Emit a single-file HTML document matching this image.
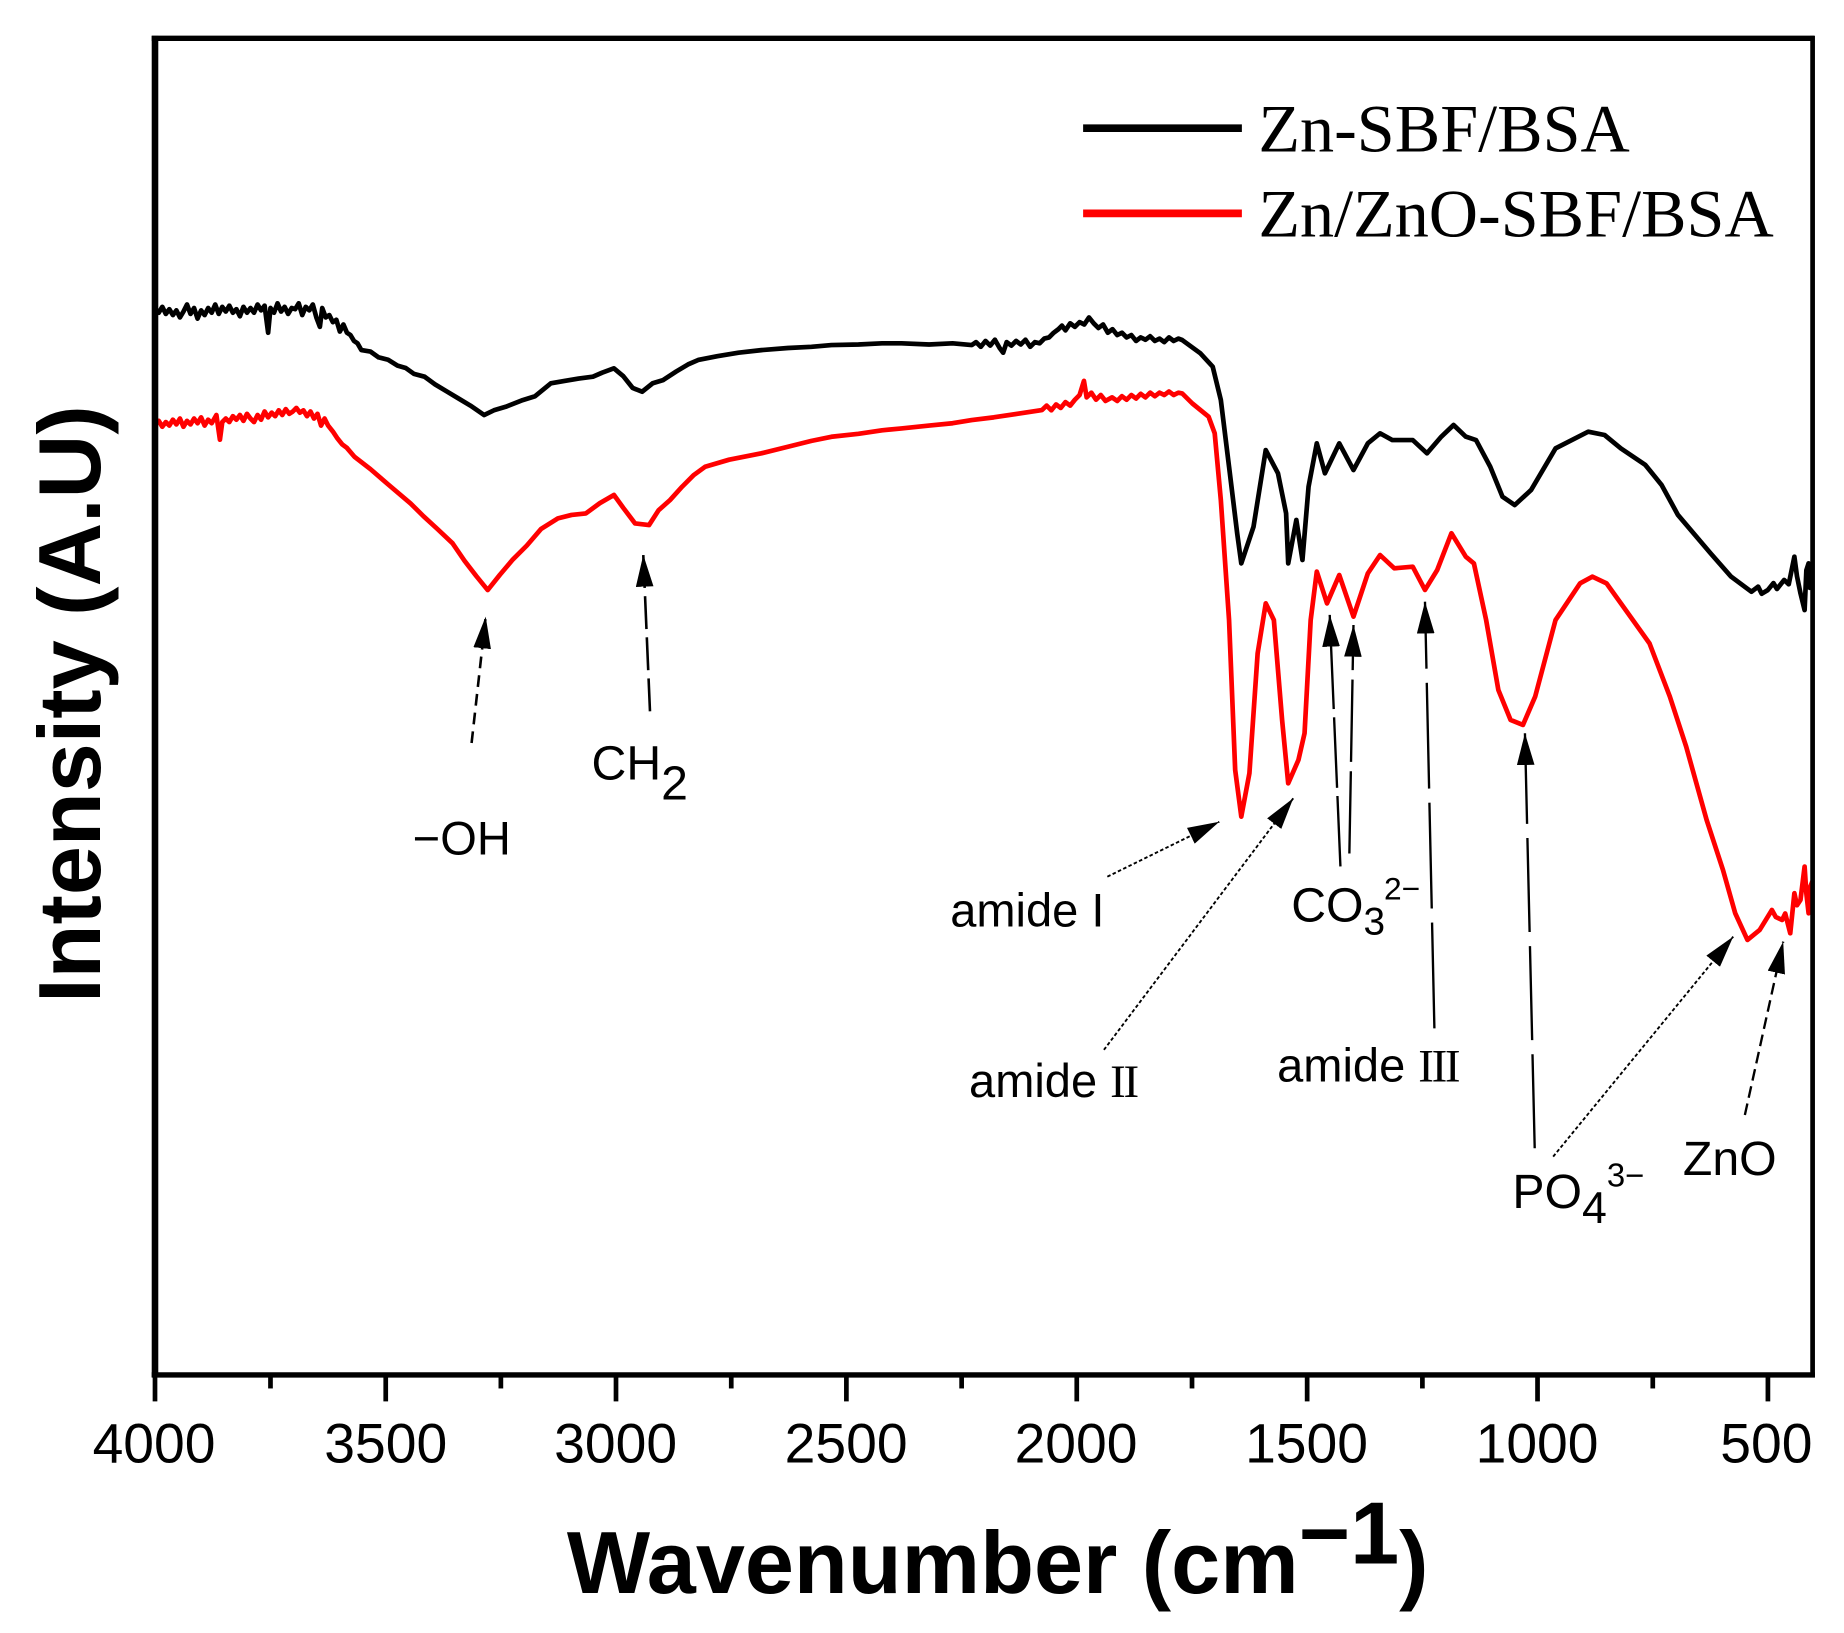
<!DOCTYPE html>
<html>
<head>
<meta charset="utf-8">
<style>
  html,body{margin:0;padding:0;background:#fff;}
  svg{display:block;}
  .t{font-family:"Liberation Sans",Arial,sans-serif;fill:#000;}
  .s{font-family:"Liberation Serif","Times New Roman",serif;fill:#000;}
</style>
</head>
<body>
<svg id="chart" width="1844" height="1633" viewBox="0 0 1568 1389" preserveAspectRatio="none" xmlns="http://www.w3.org/2000/svg">
  <defs>
    <marker id="ah" viewBox="0 0 27 15" refX="27" refY="7.5" markerWidth="27" markerHeight="15" markerUnits="userSpaceOnUse" orient="auto">
      <path d="M0,0 L27,7.5 L0,15 z" fill="#000" stroke="none"/>
    </marker>
  </defs>
  <rect x="0" y="0" width="1568" height="1389" fill="#fff"/>

  <!-- black curve -->
  <path fill="none" stroke="#000" stroke-width="4" stroke-linejoin="round" stroke-linecap="round"
    d="M131.4,262 L135,266 L138,261 L141,267 L144,263 L147,268 L150,264 L153,270 L156,265 L159,259 L162,267 L165,262 L168,271 L171,264 L174,268 L177,262 L180,266 L183,259 L186,267 L189,261 L192,265 L195,260 L198,266 L201,263 L204,269 L207,261 L210,266 L213,262 L216,266 L219,259 L222,264 L225,260 L228,283 L230,262 L233,266 L236,258 L239,265 L242,261 L245,267 L248,262 L251,263 L254,258 L257,268 L260,261 L263,264 L266,259 L269,270 L272,278 L274,262 L277,270 L280,268 L283,274 L286,272 L289,282 L292,276 L295,283 L298,285 L301,290 L304,292 L307.3,297.8 L315,299 L322,304 L330,306 L338,311 L345,313 L352,318 L361,320.4 L370,327 L380,333 L390,339 L400,345 L411.7,353 L420,349 L430,346 L444.5,340.3 L455,337 L468.4,326 L480,324 L492,322 L504.2,320.4 L512,317 L522,313.3 L530,320 L538,330 L546,333.2 L555,326 L563.8,323.3 L575,316 L585,310 L593.7,306.2 L610,303 L628,300 L647.4,297.8 L670,296 L690,295 L707,293.5 L730,293 L750,292 L766.6,292 L790,293 L810,292 L826.3,293.5 L830,291 L834,295 L838,290 L842,294 L846,289 L850,296 L853,300 L856,291 L860,294 L864,290 L868,293 L872,289 L876,295 L880,291 L884,292 L888,288 L892,287 L896,283 L900,280 L903,277 L906,281 L910,275 L914,278 L918,274 L922,276 L926,270 L930,275 L934,279 L938,276 L942,283 L946,280 L950,285 L954,283 L958,287 L962,285 L966,290 L970,287 L974,289 L978,286 L982,290 L986,288 L990,291 L994,287 L998,290 L1002,288 L1005.2,289.2 L1020.8,300.6 L1031.2,311.9 L1038.1,340.2 L1045.1,397 L1052,453.6 L1055.5,479.2 L1065.9,448 L1076.3,382.8 L1086.7,402.6 L1093.6,436.6 L1095.4,479.2 L1102.3,442.3 L1107.5,476.3 L1112.7,414 L1119.7,377.1 L1126.6,402.6 L1138.8,377.1 L1150.9,399.8 L1163.1,377.1 L1173.5,368.6 L1183.9,374.3 L1201.3,374.3 L1213.4,385.6 L1225.6,371.4 L1236,361.5 L1246.4,371.4 L1255.1,374.3 L1267.2,397 L1277.6,422.5 L1288,429.6 L1301.9,416.8 L1322.7,381.4 L1350.5,367.2 L1364.4,370 L1378.3,381.4 L1399.1,395.5 L1412.9,412.5 L1426.8,438 L1454.6,470.7 L1472,490.5 L1489.3,503.3 L1495,499 L1498,505 L1503.2,501.9 L1508,496 L1511,501 L1517.1,493.3 L1521,497 L1525.8,473.5 L1528,490 L1531,504.7 L1534.5,518.9 L1536,485 L1537.9,479.2 L1539,500 L1541,490"/>

  <!-- red curve -->
  <path fill="none" stroke="#ff0000" stroke-width="4" stroke-linejoin="round" stroke-linecap="round"
    d="M131.4,361.5 L135,358 L138,363 L141,359 L144,362 L147,357 L150,361 L153,356 L156,363 L159,358 L162,361 L165,356 L168,360 L171,355 L174,362 L177,357 L180,360 L184,353 L187,374 L189,359 L192,356 L195,359 L198,354 L201,357 L204,353 L207,358 L210,352 L213,356 L216,359 L219,353 L222,357 L225,350 L228,355 L231,351 L234,354 L237,349 L240,353 L243,348 L246,352 L249,350 L252,347 L255,351 L258,349 L261,354 L264,350 L267,356 L270,352 L273,362 L276,356 L279,362 L283,367 L287,373 L291,378 L295,381 L301.4,388.5 L315,399 L330,412 L349.1,428.2 L360,439 L372,450 L384.9,462.2 L395,477 L405,490 L414.7,501.9 L425,489 L435.6,476.4 L448,464 L460,450 L474.4,440.9 L486,438 L498.2,436.7 L510,428 L522.1,421 L530,432 L540,445.2 L551.9,446.6 L560,434 L569.8,425.3 L580,414 L590,404 L599.6,397 L620,391 L647.4,385.6 L670,380 L690,375 L707,371.5 L730,369 L750,366 L766.6,364.4 L790,362 L810,360 L826.3,357.3 L845,355 L865,352 L886,348.8 L890,345 L894,349 L898,344 L902,347 L906,342 L910,345 L914,340 L918,336 L921.7,324 L924,338 L928,334 L932,340 L936,336 L940,341 L945.6,338 L950,341 L954,337 L958,340 L962,336 L966,339 L970,335 L974,338 L978,334 L982,337 L986,334 L990,336 L994,333 L998,336 L1002,334 L1005.2,334.6 L1013.8,343.1 L1027.7,354.4 L1032.9,368.6 L1038.1,425.3 L1045.1,527.4 L1050.3,654.9 L1055.5,694.6 L1062.4,657.8 L1069.4,555.7 L1076.3,513.2 L1083.2,527.4 L1090.2,612.4 L1095.4,666.3 L1104.1,646.4 L1109.3,623.7 L1114.5,527.4 L1119.7,486.2 L1128.4,513.2 L1138.8,489.1 L1150.9,524.5 L1163.1,487.7 L1173.5,472.1 L1185.6,483.4 L1201.3,482 L1211.7,501.8 L1222.1,484.8 L1234.2,453.6 L1246.4,473.5 L1253.3,479.2 L1263.7,527.4 L1274.1,586.9 L1284.5,612.4 L1295,616.6 L1305.4,592.5 L1322.7,527.4 L1343.6,496.2 L1354,490.5 L1366.1,496.2 L1378.3,513.2 L1402.6,547.2 L1419.9,592.5 L1433.8,635.1 L1451.2,697.5 L1465.1,740 L1475.5,776.8 L1485.9,799.5 L1496.3,791 L1506.7,774 L1510,780 L1515.4,782.5 L1518,777 L1522.3,793.8 L1525.8,759.8 L1528,770 L1531,765.5 L1534.5,737.1 L1536,760 L1537.9,776.8 L1539,755 L1541,750"/>

  <!-- frame -->
  <line x1="129" y1="32.6" x2="1543" y2="32.6" stroke="#000" stroke-width="4.6"/>
  <line x1="131.8" y1="30.5" x2="131.8" y2="1171.5" stroke="#000" stroke-width="5.6"/>
  <line x1="1541.3" y1="30.5" x2="1541.3" y2="1171.5" stroke="#000" stroke-width="4"/>
  <line x1="129" y1="1169.5" x2="1543.3" y2="1169.5" stroke="#000" stroke-width="4.6"/>

  <!-- ticks -->
  <g stroke="#000" stroke-width="4">
    <line x1="131.8" y1="1169" x2="131.8" y2="1192"/>
    <line x1="328" y1="1169" x2="328" y2="1192"/>
    <line x1="523.8" y1="1169" x2="523.8" y2="1192"/>
    <line x1="719.7" y1="1169" x2="719.7" y2="1192"/>
    <line x1="915.6" y1="1169" x2="915.6" y2="1192"/>
    <line x1="1111.5" y1="1169" x2="1111.5" y2="1192"/>
    <line x1="1307.4" y1="1169" x2="1307.4" y2="1192"/>
    <line x1="1503.3" y1="1169" x2="1503.3" y2="1192"/>
    <line x1="230" y1="1169" x2="230" y2="1181"/>
    <line x1="425.9" y1="1169" x2="425.9" y2="1181"/>
    <line x1="621.8" y1="1169" x2="621.8" y2="1181"/>
    <line x1="817.7" y1="1169" x2="817.7" y2="1181"/>
    <line x1="1013.6" y1="1169" x2="1013.6" y2="1181"/>
    <line x1="1209.5" y1="1169" x2="1209.5" y2="1181"/>
    <line x1="1405.4" y1="1169" x2="1405.4" y2="1181"/>
  </g>

  <!-- tick labels -->
  <g class="t" font-size="47" text-anchor="middle">
    <text x="131" y="1244">4000</text>
    <text x="328" y="1244">3500</text>
    <text x="523.5" y="1244">3000</text>
    <text x="719.5" y="1244">2500</text>
    <text x="915" y="1244">2000</text>
    <text x="1111" y="1244">1500</text>
    <text x="1307" y="1244">1000</text>
    <text x="1502" y="1244">500</text>
  </g>

  <!-- axis titles -->
  <text class="t" x="482" y="1355" font-size="75" font-weight="bold">Wavenumber (cm<tspan dy="-25">−1</tspan><tspan dy="25">)</tspan></text>
  <text class="t" transform="translate(85,853) rotate(-90)" x="0" y="0" font-size="75" font-weight="bold">Intensity (A.U)</text>

  <!-- legend -->
  <line x1="921" y1="109" x2="1056" y2="109" stroke="#000" stroke-width="6.5"/>
  <line x1="921" y1="181.5" x2="1056" y2="181.5" stroke="#ff0000" stroke-width="6.5"/>
  <text class="s" x="1070" y="129" font-size="58">Zn-SBF/BSA</text>
  <text class="s" x="1070" y="201" font-size="58">Zn/ZnO-SBF/BSA</text>

  <!-- annotation arrows -->
  <g fill="none" stroke="#000" marker-end="url(#ah)">
    <line x1="401" y1="632" x2="413" y2="524.5" stroke-width="2.2" stroke-dasharray="10 6"/>
    <line x1="552.7" y1="605" x2="547" y2="472" stroke-width="2.2" stroke-dasharray="28 7"/>
    <line x1="941.6" y1="745.7" x2="1036.8" y2="699" stroke-width="1.6" stroke-dasharray="3 2"/>
    <line x1="938.7" y1="893" x2="1099.7" y2="679" stroke-width="1.6" stroke-dasharray="3 2"/>
    <line x1="1139.8" y1="737" x2="1130.7" y2="523" stroke-width="2" stroke-dasharray="60 7"/>
    <line x1="1147.4" y1="726" x2="1150.9" y2="531.6" stroke-width="2" stroke-dasharray="70 8"/>
    <line x1="1219.7" y1="874.7" x2="1211.7" y2="511.8" stroke-width="2" stroke-dasharray="90 12"/>
    <line x1="1305" y1="976.7" x2="1296.7" y2="623.7" stroke-width="2" stroke-dasharray="80 12"/>
    <line x1="1320.7" y1="983.8" x2="1473.8" y2="796.7" stroke-width="1.6" stroke-dasharray="3 2"/>
    <line x1="1483.7" y1="948.4" x2="1516.3" y2="800.9" stroke-width="2" stroke-dasharray="10 5"/>
  </g>

  <!-- annotation labels -->
  <g class="t" font-size="40">
    <text x="351" y="727">−OH</text>
    <text x="503" y="663" font-size="41">CH<tspan dy="17">2</tspan></text>
    <text x="808" y="788">amide I</text>
    <text x="824" y="933">amide <tspan font-family="Liberation Serif, serif" letter-spacing="-2">II</tspan></text>
    <text x="1098" y="784" font-size="41">CO<tspan font-size="33" dy="11">3</tspan><tspan font-size="27" dy="-30" dx="-1">2−</tspan></text>
    <text x="1086" y="920">amide <tspan font-family="Liberation Serif, serif" letter-spacing="-2">III</tspan></text>
    <text x="1286" y="1027.7" font-size="41">PO<tspan font-size="38" dy="12.5">4</tspan><tspan font-size="28" dy="-31">3−</tspan></text>
    <text x="1431" y="999.4" font-size="41">ZnO</text>
  </g>
</svg>
</body>
</html>
